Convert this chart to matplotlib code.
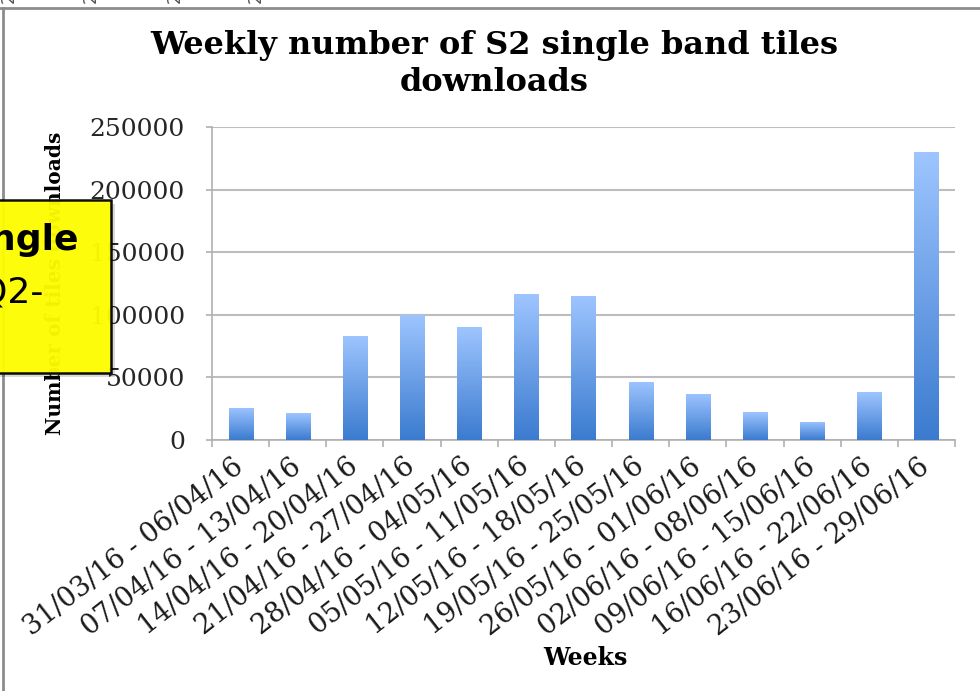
import numpy as np
import matplotlib
matplotlib.use('Agg')
import matplotlib.pyplot as plt
import matplotlib.transforms as mtransforms
from matplotlib.colors import LinearSegmentedColormap
from matplotlib.patches import Rectangle
from matplotlib.lines import Line2D

weeks = ['31/03/16 - 06/04/16', '07/04/16 - 13/04/16', '14/04/16 - 20/04/16',
         '21/04/16 - 27/04/16', '28/04/16 - 04/05/16', '05/05/16 - 11/05/16',
         '12/05/16 - 18/05/16', '19/05/16 - 25/05/16', '26/05/16 - 01/06/16',
         '02/06/16 - 08/06/16', '09/06/16 - 15/06/16', '16/06/16 - 22/06/16',
         '23/06/16 - 29/06/16']
downloads = [25800, 21300, 83100, 100000, 90100, 116500, 115400,
             46600, 36800, 22100, 14700, 38100, 230000]
yticks = [0, 50000, 100000, 150000, 200000, 250000]

fig = plt.figure(figsize=(9.8, 6.91), dpi=100)
ax = fig.add_axes([212/980, 1-440/691, 743/980, 313/691])

grad = LinearSegmentedColormap.from_list('bar', ['#3b7bcf', '#9ec5ff'])
x = np.arange(len(weeks))
bars = ax.bar(x, downloads, width=0.42, facecolor='none', edgecolor='none', zorder=3)
g = np.linspace(0, 1, 256).reshape(-1, 1)
for b in bars:
    x0 = b.get_x()
    h = b.get_height()
    im = ax.imshow(g, cmap=grad, origin='lower', aspect='auto',
                   extent=[x0, x0 + b.get_width(), 0, h], zorder=3)
    im.set_clip_path(b)

ax.set_xlim(-0.5, len(weeks) - 0.5)
ax.set_ylim(0, 250000)
ax.set_yticks(yticks)
ax.set_yticklabels([str(v) for v in yticks], family='DejaVu Serif', fontsize=18, color='#262626')
ax.set_xticks(x)
ax.set_xticklabels(weeks, rotation=38, ha='right', va='center', rotation_mode='anchor',
                   family='DejaVu Serif', fontsize=19.5, color='#1a1a1a')
shift = mtransforms.ScaledTranslation(6/100, 0, fig.dpi_scale_trans)
for lab in ax.get_xticklabels():
    lab.set_transform(lab.get_transform() + shift)
ax.set_xticks(np.arange(-0.5, len(weeks)), minor=True)
ax.tick_params(axis='x', which='major', length=0, pad=17)
ax.tick_params(axis='x', which='minor', length=5, width=1.2, color='#b0b0b0')
ax.tick_params(axis='y', length=4.5, width=1.2, color='#b0b0b0', pad=15)
ax.grid(axis='y', color='#bdbdbd', linewidth=1.5, zorder=0)
ax.set_axisbelow(True)
for s in ['top', 'right']:
    ax.spines[s].set_visible(False)
for s in ['left', 'bottom']:
    ax.spines[s].set_color('#b0b0b0')
    ax.spines[s].set_linewidth(1.2)

fig.text(494/980, 1-64/691, 'Weekly number of S2 single band tiles\ndownloads',
         ha='center', va='center', family='DejaVu Serif', fontweight='bold',
         fontsize=23, linespacing=1.25)
fig.text(585/980, 1-658/691, 'Weeks', ha='center', va='center',
         family='DejaVu Serif', fontweight='bold', fontsize=17)
fig.text(55/980, 1-283/691, 'Number of tiles downloads', rotation=90,
         ha='center', va='center', family='DejaVu Serif', fontweight='bold',
         fontsize=14.5, zorder=3)

# frame of the screenshot
fig.add_artist(Line2D([0, 1], [1-8/691, 1-8/691], color='#8c8c8c', lw=2))
fig.add_artist(Line2D([3/980, 3/980], [0, 1-8/691], color='#8c8c8c', lw=2))
for px in [9, 91, 175, 256]:
    fig.text(px/980, 1 + 2/691, '2', rotation=90, ha='center', va='center',
             fontsize=12, color='#555555')

# yellow note covering the y label
shadow = Rectangle((-5/980, 1-377/691), 120/980, 173/691, transform=fig.transFigure,
                   facecolor='#000000', alpha=0.15, edgecolor='none', zorder=5)
note = Rectangle((-5/980, 1-373/691), 116/980, 173/691, transform=fig.transFigure,
                 facecolor='#ffff00', alpha=0.95, edgecolor='black', lw=1.8, zorder=6)
fig.add_artist(shadow)
fig.add_artist(note)
fig.text(-10/980, 1-250/691, 'ngle', ha='left', va='baseline', fontsize=26,
         fontweight='bold', family='DejaVu Sans', zorder=7)
fig.text(-21/980, 1-302/691, 'Q2-', ha='left', va='baseline', fontsize=26,
         family='DejaVu Sans', zorder=7)

fig.savefig('out.png', dpi=100)
